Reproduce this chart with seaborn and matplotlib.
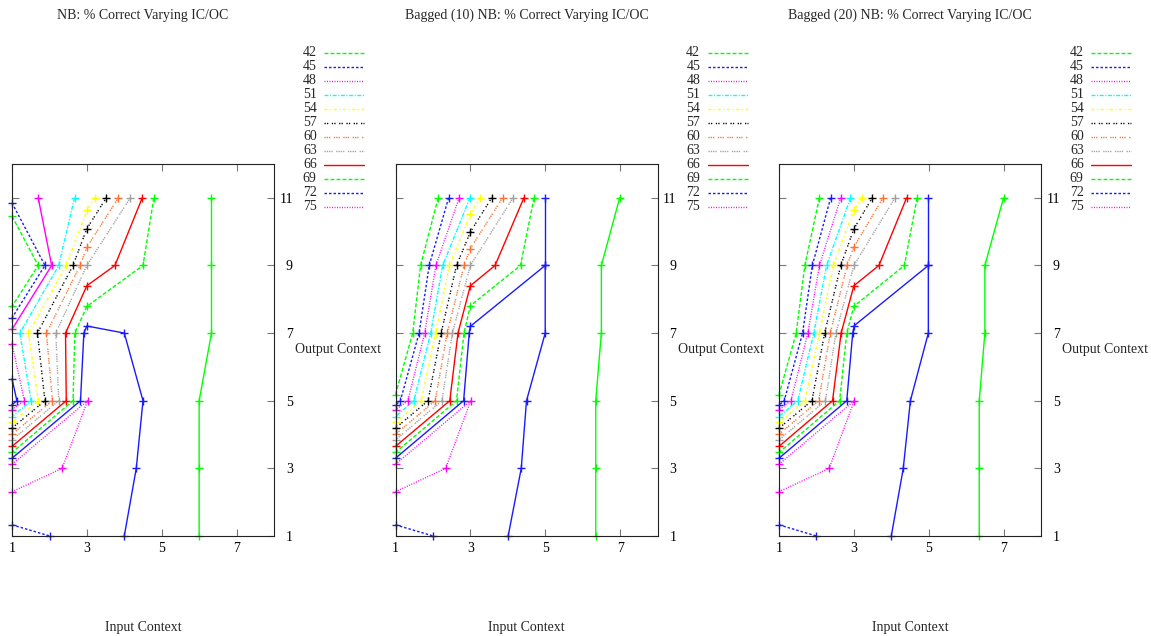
import matplotlib
matplotlib.use("Agg")
import matplotlib.pyplot as plt
import seaborn as sns

# ---------------- data (contour vertices) ----------------
LEVELS = [42, 45, 48, 51, 54, 57, 60, 63, 66, 69, 72, 75]
X_TICKS = [1, 3, 5, 7]
Y_TICKS = [1, 3, 5, 7, 9, 11]
TITLES = ["NB: % Correct Varying IC/OC",
          "Bagged (10) NB: % Correct Varying IC/OC",
          "Bagged (20) NB: % Correct Varying IC/OC"]
X_LABEL = "Input Context"
Y_LABEL = "Output Context"

# primary contour pieces: (level, input-context xs, output-context ys)
NB_MAIN = [
    (42, [1, 1.70, 1], [10.46, 9, 7.79]),
    (45, [1, 1.88, 1], [10.85, 9, 7.45]),
    (48, [1, 1.33, 1], [6.69, 5, 4.73]),
    (51, [2.67, 2.25, 1.21, 1.51, 1], [11, 9, 7, 5, 4.53]),
    (54, [3.21, 3, 2.45, 1.44, 1.70, 1], [11, 10.63, 9, 7, 5, 4.36]),
    (57, [3.52, 3, 2.63, 1.68, 1.88, 1], [11, 10.09, 9, 7, 5, 4.19]),
    (60, [3.84, 3, 2.82, 1.92, 2.08, 1], [11, 9.54, 9, 7, 5, 4.01]),
    (63, [4.16, 3.0, 2.17, 2.25, 1], [11, 9, 7, 5, 3.84]),
    (66, [4.48, 3.75, 3, 2.43, 2.45, 1], [11, 9, 8.40, 7, 5, 3.65]),
    (69, [4.79, 4.50, 3, 2.68, 2.63, 1], [11, 9, 7.79, 7, 5, 3.47]),
    (72, [1, 2.01], [1.33, 1]),
    (75, [1, 2.34, 3.02, 1], [2.31, 3, 5, 3.12]),
]
# secondary pieces of the same levels
NB_EXTRA = [
    (45, [1, 1.13, 1], [5.65, 5, 4.88]),
    (48, [1.70, 2.06, 1], [11, 9, 7.11]),
    (69, [6.0, 6.0, 6.0, 6.33, 6.33, 6.33], [1, 3, 5, 7, 9, 11]),
    (72, [4.0, 4.32, 4.50, 4.0, 3.0, 2.92, 2.83, 1], [1, 3, 5, 7, 7.21, 7, 5, 3.30]),
]

BAG10_MAIN = [
    (42, [2.14, 1.67, 1.46, 1], [11, 9, 7, 5.18]),
    (45, [2.42, 1.90, 1.63, 1.13, 1], [11, 9, 7, 5, 4.87]),
    (48, [2.70, 2.08, 1.78, 1.33, 1], [11, 9, 7, 5, 4.73]),
    (51, [2.99, 2.26, 1.94, 1.49, 1], [11, 9, 7, 5, 4.53]),
    (54, [3.27, 3, 2.44, 2.07, 1.69, 1], [11, 10.51, 9, 7, 5, 4.36]),
    (57, [3.57, 3, 2.63, 2.22, 1.87, 1], [11, 9.99, 9, 7, 5, 4.19]),
    (60, [3.86, 3, 2.83, 2.38, 2.06, 1], [11, 9.50, 9, 7, 5, 4.01]),
    (63, [4.14, 3.0, 2.52, 2.24, 1], [11, 9, 7, 5, 3.84]),
    (66, [4.43, 3.66, 3, 2.67, 2.45, 1], [11, 9, 8.40, 7, 5, 3.65]),
    (69, [4.70, 4.34, 3, 2.83, 2.63, 1], [11, 9, 7.81, 7, 5, 3.47]),
    (72, [1, 2.01], [1.33, 1]),
    (75, [1, 2.34, 3.01, 1], [2.31, 3, 5, 3.12]),
]
BAG10_EXTRA = [
    (69, [6.35, 6.35, 6.35, 6.50, 6.50, 6.99], [1, 3, 5, 7, 9, 11]),
    (72, [4.01, 4.36, 4.50, 5.0, 5.0, 3.0, 2.97, 2.82, 1], [1, 3, 5, 7, 9, 7.20, 7, 5, 3.30]),
    (72, [5.0, 5.0], [9, 11]),
]

BAG20_MAIN = [
    (42, [2.08, 1.69, 1.46, 1], [11, 9, 7, 5.18]),
    (45, [2.38, 1.89, 1.63, 1.14, 1], [11, 9, 7, 5, 4.87]),
    (48, [2.65, 2.08, 1.77, 1.32, 1], [11, 9, 7, 5, 4.73]),
    (51, [2.91, 2.27, 1.93, 1.50, 1], [11, 9, 7, 5, 4.53]),
    (54, [3.21, 3, 2.45, 2.08, 1.69, 1], [11, 10.63, 9, 7, 5, 4.36]),
    (57, [3.49, 3, 2.65, 2.22, 1.88, 1], [11, 10.08, 9, 7, 5, 4.19]),
    (60, [3.78, 3, 2.82, 2.37, 2.06, 1], [11, 9.54, 9, 7, 5, 4.01]),
    (63, [4.10, 3.0, 2.52, 2.24, 1], [11, 9, 7, 5, 3.84]),
    (66, [4.41, 3.67, 3, 2.66, 2.43, 1], [11, 9, 8.40, 7, 5, 3.65]),
    (69, [4.69, 4.35, 3, 2.81, 2.62, 1], [11, 9, 7.79, 7, 5, 3.47]),
    (72, [1, 2.0], [1.33, 1]),
    (75, [1, 2.34, 3.01, 1], [2.31, 3, 5, 3.12]),
]
BAG20_EXTRA = [
    (69, [6.35, 6.35, 6.35, 6.50, 6.50, 7.0], [1, 3, 5, 7, 9, 11]),
    (72, [4.0, 4.32, 4.51, 4.99, 4.99, 3.01, 2.97, 2.81, 1], [1, 3, 5, 7, 9, 7.22, 7, 5, 3.30]),
    (72, [4.99, 4.99], [9, 11]),
]

PANELS = [(TITLES[0], NB_MAIN, NB_EXTRA),
          (TITLES[1], BAG10_MAIN, BAG10_EXTRA),
          (TITLES[2], BAG20_MAIN, BAG20_EXTRA)]

# ---------------- styling ----------------
sns.set_style("white")
plt.rcParams["font.family"] = ["Liberation Serif", "DejaVu Serif"]
plt.rcParams["font.size"] = 10
plt.rcParams["lines.scale_dashes"] = False

PX = 0.72  # points per pixel at 100 dpi


def px_dash(seq):
    return None if seq is None else tuple(v * PX for v in seq)


BASE_STYLES = [
    ("#00ff00", (4, 2)),
    ("#1a1aff", (2.5, 2)),
    ("#ff00ff", (1, 1.5)),
    ("#00ffff", (4, 1.5, 1.2, 1.5)),
    ("#ffff00", (3, 2.5, 1.2, 2.5)),
    ("#000000", (1.3, 1.2, 1.3, 3.5)),
    ("#ff7030", (1.3, 1, 1.3, 1, 1.3, 3.5)),
    ("#a0a0a0", (1.3, 1, 1.3, 1, 1.3, 1, 1.3, 3.5)),
    ("#ff0000", None),
]
STYLE = {lev: BASE_STYLES[i % len(BASE_STYLES)] for i, lev in enumerate(LEVELS)}

FIG_W, FIG_H = 1151, 636
fig = plt.figure(figsize=(FIG_W / 100, FIG_H / 100), dpi=100)

AX_LEFT = [12, 395.5, 779]
AX_W, AX_H = 262, 372
AX_BOTTOM = 100  # px from bottom of figure

LW = 1.0


def draw_piece(ax, lev, xs, ys, solid):
    color, dash = STYLE[lev]
    sns.lineplot(x=xs, y=ys, sort=False, estimator=None, ax=ax, legend=False,
                 color=color, lw=LW, marker="+", markersize=6,
                 markeredgewidth=1.0, markeredgecolor=color, clip_on=False)
    line = ax.lines[-1]
    if dash is not None and not solid:
        line.set_dashes(px_dash(dash))
    else:
        line.set_linestyle("-")


for k, (title, main, extra) in enumerate(PANELS):
    ax = fig.add_axes([AX_LEFT[k] / FIG_W, AX_BOTTOM / FIG_H, AX_W / FIG_W, AX_H / FIG_H])
    for lev in LEVELS:
        for (lv, xs, ys) in main:
            if lv == lev:
                draw_piece(ax, lv, xs, ys, solid=False)
        for (lv, xs, ys) in extra:
            if lv == lev:
                draw_piece(ax, lv, xs, ys, solid=True)

    ax.set_xlim(1, 8)
    ax.set_ylim(1, 12)
    ax.set_xticks(X_TICKS)
    ax.set_yticks(Y_TICKS)
    ax.set_xticklabels([str(v) for v in X_TICKS])
    ax.set_yticklabels([str(v) for v in Y_TICKS])
    ax.tick_params(axis="both", direction="in", length=5, width=0.8, color="#777777",
                   top=True, bottom=True, left=True, right=True,
                   labeltop=False, labelbottom=True, labelleft=False, labelright=True,
                   labelsize=10, labelcolor="black")
    ax.tick_params(axis="x", pad=4.5)
    ax.tick_params(axis="y", pad=13.5)
    for t in ax.yaxis.get_major_ticks():
        t.label2.set_horizontalalignment("right")
    for s in ax.spines.values():
        s.set_color("#222222")
        s.set_linewidth(0.8)
        s.set_visible(True)

    ax.set_xlabel(X_LABEL, fontsize=10)
    ax.xaxis.set_label_coords(0.5, -92 / AX_H)
    ax.xaxis.label.set_verticalalignment("center")
    ax.set_ylabel(Y_LABEL, fontsize=10, rotation=0)
    ax.yaxis.set_label_coords(1 + 64 / AX_W, 0.5)
    ax.yaxis.label.set_horizontalalignment("center")
    ax.yaxis.label.set_verticalalignment("center")

    ax.text(0.5, 1 + 149 / AX_H, title, transform=ax.transAxes,
            ha="center", va="center", fontsize=10)

    # key (gnuplot style: label then sample line), outside the plot on the right
    for i, lev in enumerate(LEVELS):
        py = 52.7 + 14.0 * i
        yy = (536 - py) / AX_H
        ax.text(1 + 42.7 / AX_W, yy, str(lev), transform=ax.transAxes,
                ha="right", va="center", fontsize=10)
        color, dash = STYLE[lev]
        ln, = ax.plot([1 + 50 / AX_W, 1 + 90 / AX_W], [yy, yy], transform=ax.transAxes,
                      color=color, lw=LW, clip_on=False)
        if dash is not None:
            ln.set_dashes(px_dash(dash))

fig.savefig("out.png", dpi=100)
